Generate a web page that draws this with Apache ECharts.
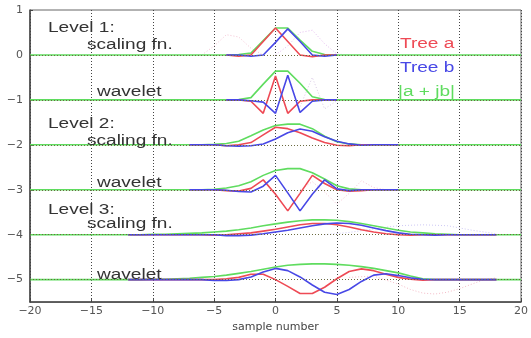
<!DOCTYPE html>
<html>
<head>
<meta charset="utf-8">
<script src="https://cdn.jsdelivr.net/npm/echarts@6/dist/echarts.min.js"></script>
<style>
  html, body { margin: 0; padding: 0; background: #fff; }
  #chart { width: 531px; height: 338px; }
</style>
</head>
<body>
<div id="chart"></div>
<script>
// sample positions for each level
var L1X = [-4, -3, -2, -1, 0, 1, 2, 3, 4, 5];
var L2X = [-7, -6, -5, -4, -3, -2, -1, 0, 1, 2, 3, 4, 5, 6, 7, 8, 9, 10];
var L3X = [-12, -11, -10, -9, -8, -7, -6, -5, -4, -3, -2, -1, 0, 1, 2, 3, 4, 5, 6, 7, 8, 9, 10, 11, 12, 13, 14, 15, 16, 17, 18];

// baselines of the six rows
var baselines = [0, -1, -2, -3, -4, -5];
var yTicks = [1, 0, -1, -2, -3, -4, -5];

// level 1
var s1a = [0, -0.03, 0, 0.3, 0.6, 0.3, 0, -0.04, 0, 0];
var s1b = [0, 0, -0.03, 0, 0.28, 0.58, 0.3, 0, -0.03, 0];
var s1g = [0, 0.01, 0.04, 0.32, 0.6, 0.6, 0.33, 0.08, 0.01, 0];
var w1a = [0, 0, -0.03, -0.3, 0.53, -0.3, -0.03, 0, 0, 0];
var w1b = [0, 0, -0.02, -0.05, -0.3, 0.55, -0.28, -0.03, 0, 0];
var w1g = [0, 0.01, 0.05, 0.35, 0.64, 0.64, 0.37, 0.07, 0.01, 0];

// level 2
var s2a = [0, 0, 0, -0.02, 0, 0.05, 0.22, 0.39, 0.36, 0.27, 0.15, 0.05, -0.01, -0.02, 0, 0, 0, 0];
var s2b = [0, 0, 0, -0.02, -0.03, -0.02, 0.02, 0.13, 0.27, 0.35, 0.3, 0.18, 0.08, 0.02, -0.01, 0, 0, 0];
var s2g = [0, 0, 0.01, 0.03, 0.08, 0.2, 0.33, 0.43, 0.46, 0.46, 0.36, 0.19, 0.07, 0.02, 0, 0, 0, 0];
var w2a = [0, 0, 0, -0.02, -0.03, 0.03, 0.22, -0.1, -0.47, -0.08, 0.32, 0.14, 0, -0.03, -0.02, 0, 0, 0];
var w2b = [0, 0, 0, -0.01, -0.04, -0.05, 0.08, 0.32, -0.07, -0.47, -0.1, 0.22, 0.02, -0.02, 0, 0, 0, 0];
var w2g = [0, 0, 0.01, 0.04, 0.09, 0.18, 0.32, 0.43, 0.47, 0.47, 0.38, 0.24, 0.09, 0.02, 0, 0, 0, 0];

// level 3
var s3a = [0, 0, 0, 0, 0, 0, 0, -0.01, 0, 0.02, 0.04, 0.08, 0.12, 0.17, 0.22, 0.25, 0.25, 0.22, 0.17, 0.11, 0.06, 0.02, 0, -0.01, 0, 0, 0, 0, 0, 0, 0];
var s3b = [0, 0, 0, 0, 0, 0, 0, 0, -0.02, -0.02, -0.01, 0.02, 0.06, 0.1, 0.15, 0.2, 0.24, 0.26, 0.25, 0.21, 0.15, 0.09, 0.04, 0.01, 0, -0.01, 0, 0, 0, 0, 0];
var s3g = [0, 0, 0.01, 0.01, 0.02, 0.03, 0.04, 0.06, 0.08, 0.11, 0.15, 0.2, 0.24, 0.28, 0.31, 0.33, 0.33, 0.32, 0.29, 0.25, 0.2, 0.15, 0.1, 0.06, 0.04, 0.02, 0.01, 0, 0, 0, 0];
var w3a = [0, 0, 0, 0, 0, 0, 0, 0, 0.02, 0.05, 0.12, 0.12, 0, -0.15, -0.31, -0.31, -0.17, 0.02, 0.18, 0.24, 0.2, 0.12, 0.05, 0.01, -0.01, 0, 0, 0, 0, 0, 0];
var w3b = [0, 0, 0, 0, 0, 0, 0, -0.02, -0.02, 0, 0.06, 0.17, 0.25, 0.2, 0.06, -0.12, -0.28, -0.33, -0.22, -0.04, 0.1, 0.13, 0.09, 0.04, 0.01, 0, 0, 0, 0, 0, 0];
var w3g = [0, 0, 0.01, 0.01, 0.02, 0.03, 0.05, 0.07, 0.1, 0.14, 0.18, 0.23, 0.28, 0.32, 0.34, 0.35, 0.35, 0.34, 0.32, 0.29, 0.25, 0.2, 0.15, 0.08, 0.02, 0, 0, 0, 0, 0, 0];

// faint dotted neighbours
var g1sRx = [0, 1, 2, 3, 4, 5, 6];
var g1sR = [0, 0.2, 0.5, 0.55, 0.25, 0.02, 0];
var g1sLx = [-6, -5, -4, -3, -2, -1];
var g1sL = [0, 0.2, 0.45, 0.4, 0.15, 0];
var g1wRx = [2, 3, 4, 5, 6];
var g1wR = [-0.15, 0.5, -0.2, -0.02, 0];
var g2wRx = [2, 3, 4, 5, 6, 7, 8, 9];
var g2wR = [0, 0.18, -0.05, -0.32, -0.08, 0.2, 0.05, 0];
var g3sRx = [4, 6, 8, 10, 12, 14, 16, 18];
var g3sR = [0, 0.05, 0.13, 0.2, 0.22, 0.2, 0.1, 0.02];
var g3wRx = [6, 8, 10, 11, 12, 13, 14, 15, 16, 17, 18];
var g3wR = [0.05, 0.08, -0.1, -0.22, -0.3, -0.32, -0.28, -0.2, -0.1, 0, 0.04];

var RED = '#ee4a55', BLUE = '#4848e6', GREEN = '#5fdc5f';

function pts(xs, vals, base, pad) {
  var d = xs.map(function (x, i) { return [x, base + vals[i]]; });
  if (pad) { d.unshift([-20, base]); d.push([20, base]); }
  return d;
}

function line(data, color, width, dotted) {
  return {
    type: 'line', data: data, showSymbol: false, silent: true,
    lineStyle: { color: color, width: width, type: dotted ? [1, 2] : 'solid', opacity: dotted ? 0.7 : 1 },
    z: dotted ? 1 : 3
  };
}

var rows = [
  [L1X, s1a, s1b, s1g], [L1X, w1a, w1b, w1g],
  [L2X, s2a, s2b, s2g], [L2X, w2a, w2b, w2g],
  [L3X, s3a, s3b, s3g], [L3X, w3a, w3b, w3g]
];

var series = [];
series.push(line(pts(g1sRx, g1sR, 0), '#d8a0e8', 1, true));
series.push(line(pts(g1sLx, g1sL, 0), '#f0a8c0', 1, true));
series.push(line(pts(g1wRx, g1wR, -1), '#c8b0d8', 1, true));
series.push(line(pts(g2wRx, g2wR, -3), '#f0a8c0', 1, true));
series.push(line(pts(g3sRx, g3sR, -4), '#b8b0f0', 1, true));
series.push(line(pts(g3wRx, g3wR, -5), '#f0a0b0', 1, true));

rows.forEach(function (r, i) {
  var b = baselines[i];
  series.push(line(pts(r[0], r[3], b, true), GREEN, 1.6));
  series.push(line(pts(r[0], r[1], b), RED, 1.6));
  series.push(line(pts(r[0], r[2], b), BLUE, 1.6));
});

// dotted horizontal grid at each level, drawn above the flat green tails
series.push({
  type: 'line', data: [], silent: true, z: 5,
  markLine: {
    silent: true, symbol: 'none', animation: false,
    label: { show: false },
    lineStyle: { color: '#6a6a40', width: 1, type: [1, 2] },
    data: baselines.map(function (y) { return { yAxis: y }; })
  }
});

function minus(v) { return String(v).replace('-', '\u2212'); }

var labelFont = { color: '#555', fontFamily: 'DejaVu Sans', fontSize: 11 };

function note(text, x, y, color) {
  return {
    type: 'text', x: x, y: y, scaleX: 1.36, silent: true, z: 10,
    style: {
      text: text, fill: color || '#333', font: '14px "Liberation Sans", Arial, sans-serif',
      textAlign: 'left', textVerticalAlign: 'middle', align: 'left', verticalAlign: 'middle'
    }
  };
}

var chart = echarts.init(document.getElementById('chart'), null, { renderer: 'canvas' });
chart.setOption({
  animation: false,
  backgroundColor: '#fff',
  grid: { left: 30, right: 4, top: 10, bottom: 28, show: true, borderColor: '#666', borderWidth: 1 },
  xAxis: {
    type: 'value', min: -20, max: 20, interval: 5,
    name: 'sample number', nameLocation: 'middle', nameGap: 17,
    nameTextStyle: { color: '#444', fontFamily: 'DejaVu Sans', fontSize: 11 },
    axisLine: { onZero: false, lineStyle: { color: '#444', width: 1.5 } },
    axisTick: { inside: true, length: 3, lineStyle: { color: '#444' } },
    axisLabel: Object.assign({ margin: 4, formatter: minus }, labelFont),
    splitLine: { show: true, lineStyle: { color: '#444', width: 1, type: [1, 2] } }
  },
  yAxis: {
    type: 'value', min: -5.5, max: 1, interval: 0.5,
    axisLine: { show: true, onZero: false, lineStyle: { color: '#444', width: 1.5 } },
    axisTick: { show: true, inside: true, length: 3, customValues: yTicks, lineStyle: { color: '#444' } },
    axisLabel: Object.assign({
      margin: 7, customValues: yTicks,
      formatter: function (v) { return Number.isInteger(v) ? minus(v) : ''; }
    }, labelFont),
    splitLine: { show: false }
  },
  series: series,
  graphic: [
    note('Level 1:', 48, 28), note('scaling fn.', 87, 45), note('wavelet', 97, 92),
    note('Level 2:', 48, 124), note('scaling fn.', 87, 141), note('wavelet', 97, 183),
    note('Level 3:', 48, 210), note('scaling fn.', 87, 224), note('wavelet', 97, 275),
    note('Tree a', 400, 44, RED), note('Tree b', 400, 68, BLUE), note('|a + jb|', 398, 92, GREEN)
  ]
});
</script>
</body>
</html>
